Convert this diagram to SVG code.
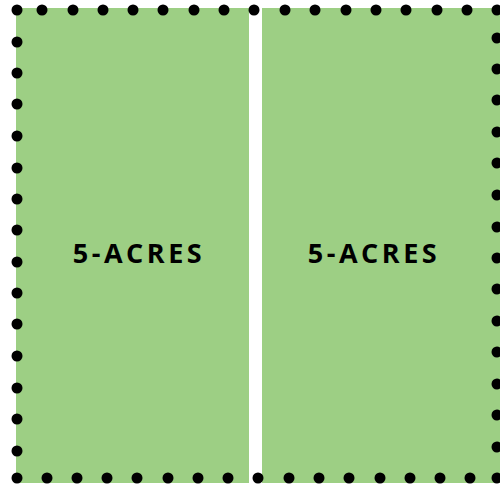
<svg xmlns="http://www.w3.org/2000/svg" width="500" height="486" viewBox="0 0 500 486">
<style>
.field{fill:#9dcf84;}
.dot{fill:#000;}
.lbl{font-family:"Open Sans","Liberation Sans",sans-serif;font-weight:700;font-size:27px;letter-spacing:3.5px;fill:#000;text-anchor:middle;}
</style>
<rect width="500" height="486" fill="#fff"/>
<g id="field-left">
<rect class="field" x="16" y="8" width="233" height="475"/>
<text class="lbl" x="139" y="263">5-ACRES</text>
</g>
<g id="field-right">
<rect class="field" x="262" y="8" width="238" height="475"/>
<text class="lbl" x="374" y="263">5-ACRES</text>
</g>
<g id="fence">
<!-- top -->
<circle class="dot" cx="17" cy="10" r="5.5"/>
<circle class="dot" cx="42" cy="10" r="5.5"/>
<circle class="dot" cx="73" cy="10" r="5.5"/>
<circle class="dot" cx="103" cy="10" r="5.5"/>
<circle class="dot" cx="133" cy="10" r="5.5"/>
<circle class="dot" cx="163" cy="10" r="5.5"/>
<circle class="dot" cx="194" cy="10" r="5.5"/>
<circle class="dot" cx="224" cy="10" r="5.5"/>
<circle class="dot" cx="254" cy="10" r="5.5"/>
<circle class="dot" cx="285" cy="10" r="5.5"/>
<circle class="dot" cx="315" cy="10" r="5.5"/>
<circle class="dot" cx="346" cy="10" r="5.5"/>
<circle class="dot" cx="376" cy="10" r="5.5"/>
<circle class="dot" cx="406" cy="10" r="5.5"/>
<circle class="dot" cx="437" cy="10" r="5.5"/>
<circle class="dot" cx="467" cy="10" r="5.5"/>
<circle class="dot" cx="497" cy="10" r="5.5"/>
<!-- left -->
<circle class="dot" cx="17" cy="42" r="5.5"/>
<circle class="dot" cx="17" cy="73" r="5.5"/>
<circle class="dot" cx="17" cy="104" r="5.5"/>
<circle class="dot" cx="17" cy="136" r="5.5"/>
<circle class="dot" cx="17" cy="168" r="5.5"/>
<circle class="dot" cx="17" cy="199" r="5.5"/>
<circle class="dot" cx="17" cy="230" r="5.5"/>
<circle class="dot" cx="17" cy="262" r="5.5"/>
<circle class="dot" cx="17" cy="293" r="5.5"/>
<circle class="dot" cx="17" cy="324" r="5.5"/>
<circle class="dot" cx="17" cy="356" r="5.5"/>
<circle class="dot" cx="17" cy="388" r="5.5"/>
<circle class="dot" cx="17" cy="419" r="5.5"/>
<circle class="dot" cx="17" cy="451" r="5.5"/>
<!-- right -->
<circle class="dot" cx="497" cy="38" r="5.5"/>
<circle class="dot" cx="497" cy="69" r="5.5"/>
<circle class="dot" cx="497" cy="100" r="5.5"/>
<circle class="dot" cx="497" cy="132" r="5.5"/>
<circle class="dot" cx="497" cy="163" r="5.5"/>
<circle class="dot" cx="497" cy="195" r="5.5"/>
<circle class="dot" cx="497" cy="227" r="5.5"/>
<circle class="dot" cx="497" cy="258" r="5.5"/>
<circle class="dot" cx="497" cy="289" r="5.5"/>
<circle class="dot" cx="497" cy="321" r="5.5"/>
<circle class="dot" cx="497" cy="352" r="5.5"/>
<circle class="dot" cx="497" cy="384" r="5.5"/>
<circle class="dot" cx="497" cy="415" r="5.5"/>
<circle class="dot" cx="497" cy="447" r="5.5"/>
<!-- bottom -->
<circle class="dot" cx="17" cy="478" r="5.5"/>
<circle class="dot" cx="47" cy="478" r="5.5"/>
<circle class="dot" cx="77" cy="478" r="5.5"/>
<circle class="dot" cx="107" cy="478" r="5.5"/>
<circle class="dot" cx="137" cy="478" r="5.5"/>
<circle class="dot" cx="168" cy="478" r="5.5"/>
<circle class="dot" cx="198" cy="478" r="5.5"/>
<circle class="dot" cx="228" cy="478" r="5.5"/>
<circle class="dot" cx="258" cy="478" r="5.5"/>
<circle class="dot" cx="289" cy="478" r="5.5"/>
<circle class="dot" cx="319" cy="478" r="5.5"/>
<circle class="dot" cx="349" cy="478" r="5.5"/>
<circle class="dot" cx="380" cy="478" r="5.5"/>
<circle class="dot" cx="410" cy="478" r="5.5"/>
<circle class="dot" cx="440" cy="478" r="5.5"/>
<circle class="dot" cx="470" cy="478" r="5.5"/>
<circle class="dot" cx="497" cy="478" r="5.5"/>
</g>
</svg>
